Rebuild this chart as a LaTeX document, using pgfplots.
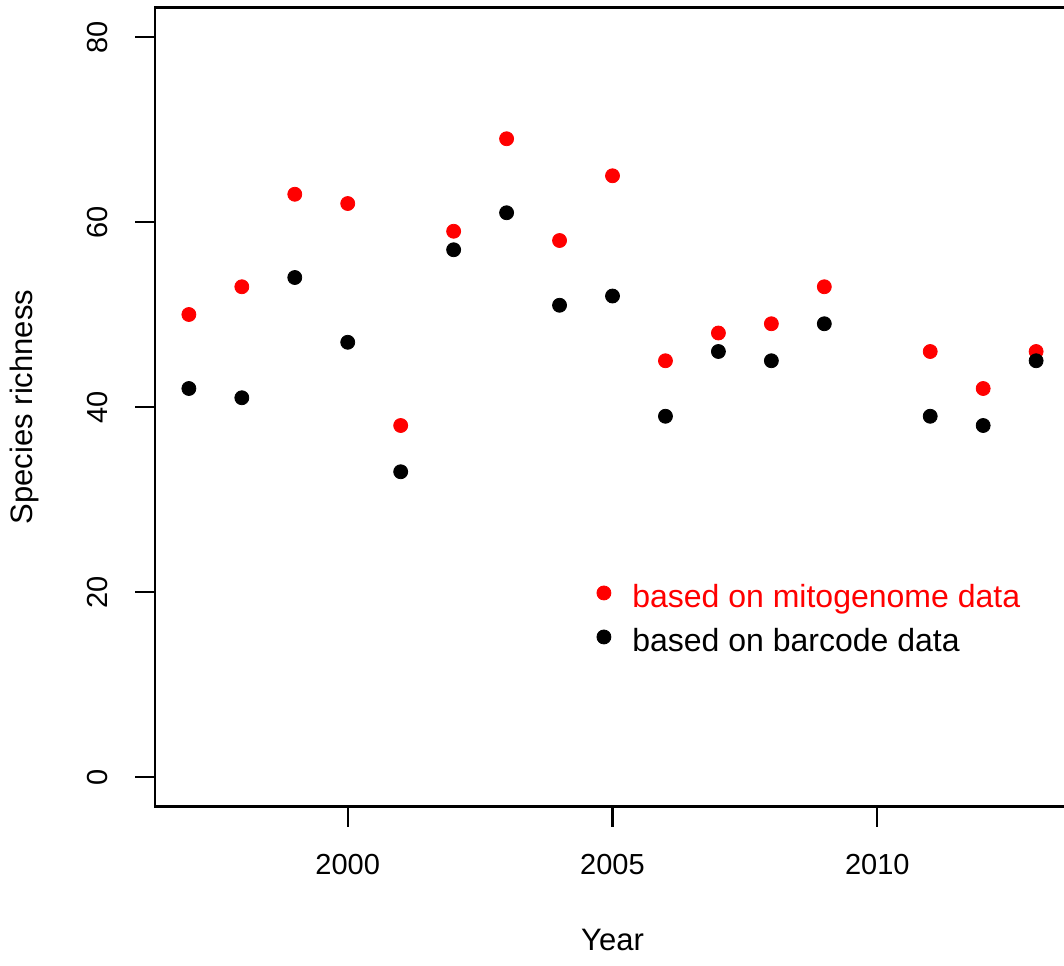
\documentclass[border=0pt]{standalone}
\usepackage{pgfplots}
\pgfplotsset{compat=1.18}
\usepackage{fontspec}
\setmainfont{Liberation Sans}

\pgfplotstableread{
year mito barcode
1997 50 42
1998 53 41
1999 63 54
2000 62 47
2001 38 33
2002 59 57
2003 69 61
2004 58 51
2005 65 52
2006 45 39
2007 48 46
2008 49 45
2009 53 49
2011 46 39
2012 42 38
2013 46 45
}\richness

\begin{document}
\begin{tikzpicture}
\begin{axis}[
  scale only axis,
  width=457.5pt, height=399.6pt,
  xmin=1996.36, xmax=2013.64,
  ymin=-3.2, ymax=83.2,
  xtick={2000,2005,2010},
  ytick={0,20,40,60,80},
  xtick pos=bottom, ytick pos=left,
  tick align=outside,
  major tick length=10pt,
  every tick/.style={black, line width=1.2pt},
  axis line style={line width=1.2pt},
  /pgf/number format/1000 sep={},
  /pgf/number format/assume math mode=true,
  tick label style={font=\fontsize{14.5}{17}\selectfont},
  xticklabel style={anchor=center},
  xticklabel shift=19pt,
  yticklabel style={rotate=90, anchor=center},
  yticklabel shift=19pt,
  label style={font=\fontsize{15.5}{18}\selectfont},
  xlabel={Year},
  ylabel={Species richness},
  xlabel style={at={(axis description cs:0.5,-0.1669)}, anchor=center},
  ylabel style={at={(axis description cs:-0.1421,0.5)}, anchor=center},
  legend image code/.code={\fill (0pt,3.5pt) circle (3.5pt);},
  legend style={draw=none, fill=none, inner sep=0pt, outer sep=0pt,
    at={(axis cs:2004.698,20.87)}, anchor=north west,
    font=\fontsize{16}{19}\selectfont, row sep=6pt, column sep=10.5pt,
    nodes={inner sep=0pt, text height=12pt, text depth=4pt}},
  legend cell align=left,
]
\addplot[only marks, mark=*, mark size=3.5pt, color=red] table[x=year, y=mito] {\richness};
\addlegendentry{\textcolor{red}{based on mitogenome data}}
\addplot[only marks, mark=*, mark size=3.5pt, color=black] table[x=year, y=barcode] {\richness};
\addlegendentry{based on barcode data}
\coordinate (bl) at (rel axis cs:0,0);
\end{axis}
\pgfresetboundingbox
\path[use as bounding box] ([xshift=-77.5pt,yshift=-79.2pt]bl) rectangle ([xshift=454.5pt,yshift=403.3pt]bl);
\end{tikzpicture}
\end{document}
